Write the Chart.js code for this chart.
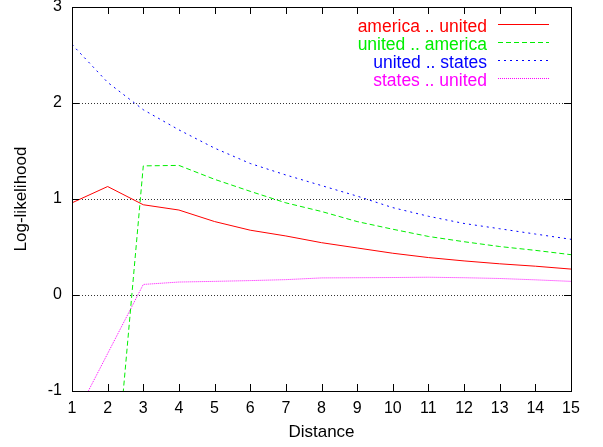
<!DOCTYPE html>
<html>
<head>
  <title>Log-likelihood by distance</title>
  <script src="https://cdn.jsdelivr.net/npm/chart.js@4.4.0/dist/chart.umd.min.js"></script>
  <style>
    body { margin: 0; }
    #wrap { position: relative; width: 603px; height: 447px; }
    #llChart { position: absolute; left: 0; top: 0; }
    .key-text {
      position: absolute;
      right: 116px;
      height: 18px;
      line-height: 18px;
      font: 17.5px 'Liberation Sans', Arial, Helvetica, sans-serif;
      white-space: nowrap;
    }
    .key-line { position: absolute; left: 498px; width: 51px; height: 1px; }
  </style>
</head>
<body>
<div id="wrap">
  <canvas id="llChart" width="603" height="447"></canvas>
  <div id="key"></div>
</div>

<script>
  // distances on the x axis
  const distances = [1, 2, 3, 4, 5, 6, 7, 8, 9, 10, 11, 12, 13, 14, 15];

  // log-likelihood per pair
  const americaUnited = [0.96, 1.13, 0.94, 0.885, 0.765, 0.675, 0.615, 0.545, 0.49, 0.435, 0.39, 0.355, 0.325, 0.30, 0.27];
  const unitedAmerica = [-3.6, -2.84, 1.345, 1.35, 1.205, 1.08, 0.96, 0.87, 0.765, 0.685, 0.61, 0.555, 0.505, 0.465, 0.42];
  const unitedStates  = [2.61, 2.215, 1.93, 1.72, 1.53, 1.37, 1.25, 1.14, 1.03, 0.91, 0.82, 0.745, 0.69, 0.635, 0.58];
  const statesUnited  = [-1.33, -0.61, 0.11, 0.135, 0.142, 0.15, 0.16, 0.178, 0.18, 0.182, 0.185, 0.18, 0.172, 0.158, 0.142];

  const seriesLabels = ['america .. united', 'united .. america', 'united .. states', 'states .. united'];

  const yTicks = [-1, 0, 1, 2, 3];

  const FONT = "'Liberation Sans', Arial, Helvetica, sans-serif";

  const seriesStyle = [
    { color: '#ff0000', dash: [] },
    { color: '#00ee00', dash: [5, 3] },
    { color: '#0000ff', dash: [2, 4] },
    { color: '#ff00ff', dash: [1, 1] }
  ];

  function pts(values) {
    return distances.map((d, i) => ({ x: d, y: values[i] }));
  }

  function line(label, values, style) {
    return {
      label: label,
      data: pts(values),
      borderColor: style.color,
      backgroundColor: style.color,
      borderWidth: 1,
      borderDash: style.dash,
      pointRadius: 0,
      tension: 0,
      fill: false
    };
  }

  // frame and inward ticks on all four sides
  const inwardTicks = {
    id: 'inwardTicks',
    afterDraw(chart) {
      const ctx = chart.ctx;
      const a = chart.chartArea;
      const xs = chart.scales.x;
      const ys = chart.scales.y;
      const tl = 7;
      const L = Math.round(a.left), R = Math.round(a.right);
      const T = Math.round(a.top), B = Math.round(a.bottom);
      ctx.save();
      ctx.fillStyle = '#000';
      ctx.fillRect(L, T, R - L + 1, 1);
      ctx.fillRect(L, B, R - L + 1, 1);
      ctx.fillRect(L, T, 1, B - T + 1);
      ctx.fillRect(R, T, 1, B - T + 1);
      distances.forEach(d => {
        const px = Math.round(xs.getPixelForValue(d));
        ctx.fillRect(px, B - tl, 1, tl);
        ctx.fillRect(px, T, 1, tl);
      });
      yTicks.forEach(v => {
        const py = Math.round(ys.getPixelForValue(v));
        ctx.fillRect(L, py, tl, 1);
        ctx.fillRect(R - tl, py, tl, 1);
      });
      ctx.restore();
    }
  };

  new Chart(document.getElementById('llChart'), {
    type: 'line',
    data: {
      datasets: [
        line(seriesLabels[0], americaUnited, seriesStyle[0]),
        line(seriesLabels[1], unitedAmerica, seriesStyle[1]),
        line(seriesLabels[2], unitedStates, seriesStyle[2]),
        line(seriesLabels[3], statesUnited, seriesStyle[3])
      ]
    },
    options: {
      responsive: false,
      animation: false,
      layout: { padding: { top: 7, right: 32, left: 0, bottom: 0 } },
      plugins: {
        legend: { display: false },
        tooltip: { enabled: false }
      },
      scales: {
        x: {
          type: 'linear',
          min: 1,
          max: 15,
          afterFit: s => { s.height = 56; s.paddingLeft = 0; s.paddingRight = 0; },
          afterBuildTicks: s => { s.ticks = distances.map(v => ({ value: v })); },
          ticks: { color: '#000', padding: 8, maxRotation: 0, font: { family: FONT, size: 16 } },
          grid: { display: false, drawTicks: false },
          border: { display: true, color: '#000', width: 1 },
          title: {
            display: true,
            text: 'Distance',
            color: '#000',
            font: { family: FONT, size: 17 },
            padding: { top: 0, bottom: 4 }
          }
        },
        y: {
          min: -1,
          max: 3,
          afterFit: s => { s.width = 72; s.paddingTop = 0; s.paddingBottom = 0; },
          afterBuildTicks: s => { s.ticks = yTicks.map(v => ({ value: v })); },
          ticks: { color: '#000', padding: 10, font: { family: FONT, size: 16 } },
          grid: {
            drawTicks: false,
            lineWidth: 1,
            color: c => (c.tick && (c.tick.value === 0 || c.tick.value === 1 || c.tick.value === 2)) ? '#333' : 'rgba(0,0,0,0)'
          },
          border: { display: true, color: '#000', width: 1, dash: [1, 2] },
          title: {
            display: true,
            text: 'Log-likelihood',
            color: '#000',
            font: { family: FONT, size: 17 },
            padding: { top: 11, bottom: 0 }
          }
        }
      }
    },
    plugins: [inwardTicks]
  });

  // gnuplot style key as page text: label right aligned, line sample to its right
  const key = document.getElementById('key');
  seriesLabels.forEach((label, i) => {
    const st = seriesStyle[i];
    const yc = 24 + i * 18.1;
    const t = document.createElement('div');
    t.className = 'key-text';
    t.style.top = Math.round(yc - 9 + 1) + 'px';
    t.style.color = st.color;
    t.textContent = label;
    key.appendChild(t);

    const s = document.createElement('div');
    s.className = 'key-line';
    s.style.top = Math.round(yc) + 'px';
    if (st.dash.length) {
      const on = st.dash[0], period = st.dash[0] + st.dash[1];
      s.style.background = 'repeating-linear-gradient(to right, ' + st.color + ' 0px, ' + st.color + ' ' + on + 'px, transparent ' + on + 'px, transparent ' + period + 'px)';
    } else {
      s.style.background = st.color;
    }
    key.appendChild(s);
  });
</script>
</body>
</html>
